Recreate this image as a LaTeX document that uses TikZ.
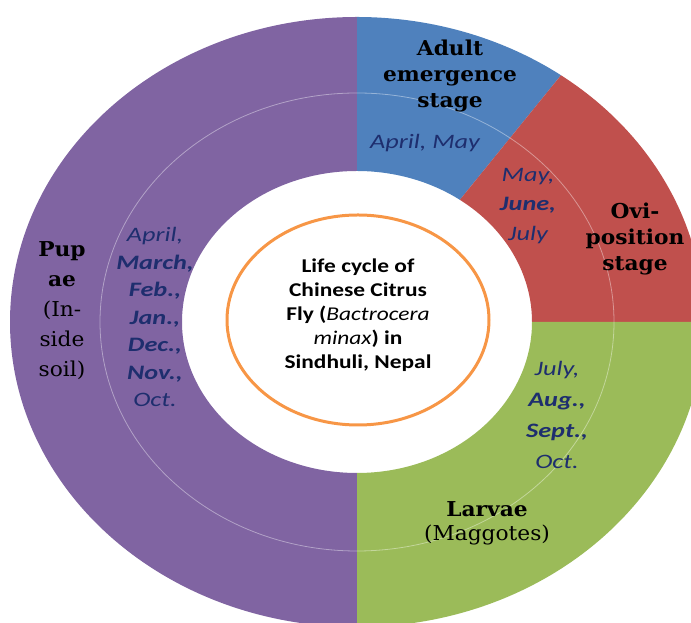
\documentclass[tikz,border=0pt]{standalone}
\usepackage{fontspec}
\newfontfamily\stagefont{DejaVu Serif}
\newfontfamily\calfont{Carlito}
\definecolor{segpurple}{RGB}{128,100,162}
\definecolor{segblue}{RGB}{79,129,189}
\definecolor{segred}{RGB}{192,80,77}
\definecolor{seggreen}{RGB}{155,187,89}
\definecolor{segorange}{RGB}{247,150,70}
\definecolor{navy}{RGB}{30,46,110}
\tikzset{
  stagetxt/.style={align=center, text=black, inner sep=0pt, xscale=1.06},
  monthtxt/.style={align=center, text=navy, inner sep=0pt, xscale=1.28},
  centertxt/.style={align=center, text=black, inner sep=0pt, xscale=1.2},
  ringline/.style={white, opacity=0.4, line width=0.8pt},
}
\begin{document}
\begin{tikzpicture}[x=1pt,y=1pt]
\useasboundingbox (0,0) rectangle (691,623);
\clip (0,0) rectangle (691,623);
% sectors
\fill[segpurple] (357,606) arc[start angle=90,end angle=270,x radius=347pt,y radius=305pt]
  -- (357,150) arc[start angle=270,end angle=90,x radius=175pt,y radius=151pt] -- cycle;
\fill[segblue] (357,606) arc[start angle=90,end angle=54,x radius=347pt,y radius=305pt]
  -- (459.86,423.16) arc[start angle=54,end angle=90,x radius=175pt,y radius=151pt] -- cycle;
\fill[segred] (560.96,547.75) arc[start angle=54,end angle=0,x radius=347pt,y radius=305pt]
  -- (532,301) arc[start angle=0,end angle=54,x radius=175pt,y radius=151pt] -- cycle;
\fill[seggreen] (704,301) arc[start angle=0,end angle=-90,x radius=347pt,y radius=305pt]
  -- (357,150) arc[start angle=-90,end angle=0,x radius=175pt,y radius=151pt] -- cycle;
% faint ring
\draw[ringline] (357,301) ellipse [x radius=257pt, y radius=229pt];
% orange ellipse
\draw[segorange, line width=3pt] (358,303) ellipse [x radius=131pt, y radius=105pt];
% stage labels
\node[stagetxt, font=\stagefont\bfseries\fontsize{20.5}{26}\selectfont] (adult) at (450,547)
  {Adult\\emergence\\stage};
\node[stagetxt, font=\stagefont\bfseries\fontsize{20.5}{26}\selectfont] (ovi) at (635,384)
  {Ovi-\\position\\stage};
\node[stagetxt, font=\stagefont\fontsize{20.5}{24}\selectfont] (larvae) at (487,100)
  {\textbf{Larvae}\\(Maggotes)};
\node[stagetxt, font=\stagefont\fontsize{20.5}{30}\selectfont] (pupae) at (62,312)
  {\textbf{Pup}\\\textbf{ae}\\(In-\\side\\soil)};
% months
\node[monthtxt, font=\calfont\itshape\fontsize{20.5}{27}\selectfont] (mblue) at (425,480)
  {April, May};
\node[monthtxt, font=\calfont\itshape\fontsize{20.5}{29.5}\selectfont] (mred) at (528,417)
  {May,\\\textbf{June,}\\July};
\node[monthtxt, font=\calfont\itshape\fontsize{20.5}{31}\selectfont] (mgreen) at (557,208)
  {July,\\\textbf{Aug.,}\\\textbf{Sept.,}\\Oct.};
\node[monthtxt, font=\calfont\itshape\fontsize{20.5}{27.5}\selectfont] (mpurple) at (155,306)
  {April,\\\textbf{March,}\\\textbf{Feb.,}\\\textbf{Jan.,}\\\textbf{Dec.,}\\\textbf{Nov.,}\\Oct.};
% centre
\node[centertxt, font=\calfont\bfseries\fontsize{19.5}{24}\selectfont] (title) at (358,308)
  {Life cycle of\\Chinese Citrus\\Fly ({\mdseries\itshape Bactrocera}\\{\mdseries\itshape minax}) in\\Sindhuli, Nepal};
\end{tikzpicture}
\end{document}
